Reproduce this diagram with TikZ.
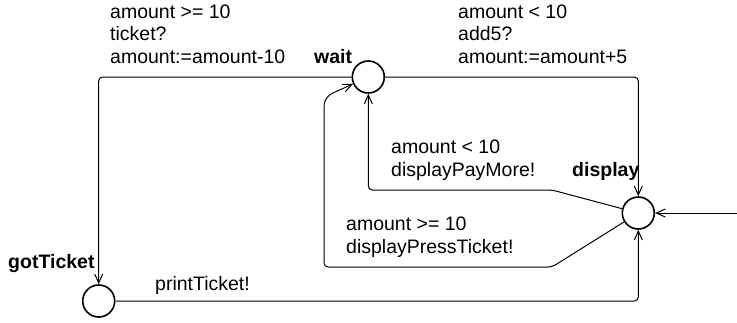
\documentclass[tikz,border=0pt]{standalone}
\usepackage{fontspec}
\setmainfont{Liberation Sans}
\usetikzlibrary{arrows.meta}
\begin{document}
\begin{tikzpicture}[x=1pt,y=-1pt,
  loc/.style={circle,draw,line width=1.6pt,minimum size=32pt,inner sep=0pt},
  lbl/.style={anchor=base west,inner sep=0pt,align=left,font=\fontsize{19.5}{22.7}\selectfont},
  locname/.style={anchor=base west,inner sep=0pt,font=\fontsize{19.5}{23}\selectfont\bfseries},
  edge/.style={line width=1pt,rounded corners=4pt,-{Straight Barb[length=9pt,width=8pt]}}]
\useasboundingbox (0,0) rectangle (737,322);
\node[loc] (wait) at (368.3,77) {};
\node[loc] (display) at (638.3,213) {};
\node[loc] (got) at (98.7,301) {};
\coordinate (init) at (737,213);
% location names
\node[locname] (nwait) at (314,63) {wait};
\node[locname] (ndisplay) at (572,176) {display};
\node[locname] (ngot) at (8,268) {gotTicket};
% edges
\draw[edge] (wait) -- (98.7,77) -- (got);
\draw[edge] (wait) -- (638.3,77) -- (display);
\draw[edge] (display) -- (552,190) -- (368.3,190) -- (wait);
\draw[edge] (display) -- (552,267) -- (324,267) [rounded corners=9pt] -- (324,97) -- (wait);
\draw[edge] (got) -- (638.3,301) -- (display);
\draw[edge] (init) -- (display);
% labels (anchored at the baseline of the last line)
\node[lbl] (l1) at (110,63.5) {amount >= 10\\ticket?\\amount:=amount-10};
\node[lbl] (l2) at (458,63.5) {amount < 10\\add5?\\amount:=amount+5};
\node[lbl] (l3) at (391,176) {amount < 10\\displayPayMore!};
\node[lbl] (l4) at (346,253) {amount >= 10\\displayPressTicket!};
\node[lbl] (l5) at (155,290) {printTicket!};
\end{tikzpicture}
\end{document}
